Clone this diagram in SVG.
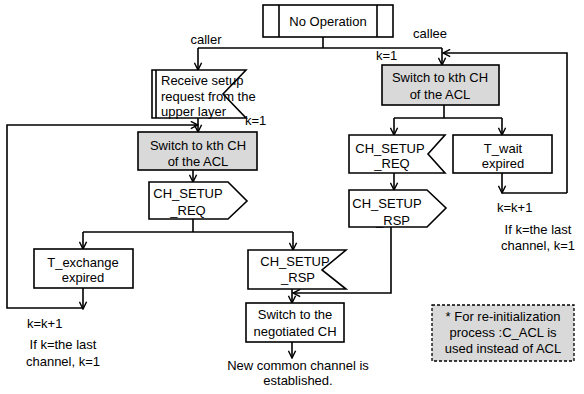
<svg xmlns="http://www.w3.org/2000/svg" width="584" height="394" viewBox="0 0 584 394">
<style>
.b{fill:#fff;stroke:#000;stroke-width:1.6}
.g{fill:#d9d9d9;stroke:#000;stroke-width:1.6}
.c{fill:none;stroke:#000;stroke-width:1.6}
text{font-family:"Liberation Sans",Arial,sans-serif;font-size:13px;fill:#000}
.m{text-anchor:middle}
</style>
<defs>
<marker id="a" viewBox="0 0 10 10" refX="9" refY="5" markerWidth="9" markerHeight="9" markerUnits="userSpaceOnUse" orient="auto">
<path d="M1,1 L9,5 L1,9" fill="none" stroke="#000" stroke-width="1.6"/>
</marker>
</defs>
<rect width="584" height="394" fill="#fff"/>
<g id="connectors">
<path class="c" d="M323,37 V48"/>
<path class="c" d="M198,48 H442"/>
<path class="c" d="M198,48 V70" marker-end="url(#a)"/>
<path class="c" d="M442,48 V65" marker-end="url(#a)"/>
<path class="c" d="M567,193 V53 H443" marker-end="url(#a)"/>
<path class="c" d="M198,118 V132" marker-end="url(#a)"/>
<path class="c" d="M83,308 H7 V125 H198" marker-end="url(#a)"/>
<path class="c" d="M193,170 V182" marker-end="url(#a)"/>
<path class="c" d="M193,219 V232"/>
<path class="c" d="M83,232 H293"/>
<path class="c" d="M83,232 V249" marker-end="url(#a)"/>
<path class="c" d="M293,232 V250" marker-end="url(#a)"/>
<path class="c" d="M83,288 V309" marker-end="url(#a)"/>
<path class="c" d="M292,289 V303" marker-end="url(#a)"/>
<path class="c" d="M391,227 V293 H293" marker-end="url(#a)"/>
<path class="c" d="M292,342 V358" marker-end="url(#a)"/>
<path class="c" d="M444,105 V118"/>
<path class="c" d="M394,118 H502"/>
<path class="c" d="M394,118 V135" marker-end="url(#a)"/>
<path class="c" d="M502,118 V135" marker-end="url(#a)"/>
<path class="c" d="M394,173 V190" marker-end="url(#a)"/>
<path class="c" d="M502,173 V193" marker-end="url(#a)"/>
<path class="c" d="M502,193 H567"/>
</g>
<g id="no-operation">
<rect class="b" x="263" y="5" width="130" height="32"/>
<path class="c" d="M279,5 V37 M377,5 V37"/>
<text class="m" x="328" y="26">No Operation</text>
</g>
<g id="labels-top">
<text class="m" x="206" y="44">caller</text>
<text class="m" x="430" y="38">callee</text>
<text x="376" y="60">k=1</text>
<text x="245" y="125">k=1</text>
</g>
<g id="receive-setup">
<path class="b" d="M152,70 H246 L223,94 L246,118 H152 Z"/>
<path class="c" d="M156,70 V118"/>
<text x="161" y="85">Receive setup</text>
<text x="161" y="101">request from the</text>
<text x="161" y="116">upper layer</text>
</g>
<g id="switch-left">
<rect class="g" x="138" y="132" width="119" height="38"/>
<text class="m" x="198" y="150">Switch to kth CH</text>
<text class="m" x="198" y="166">of the ACL</text>
</g>
<g id="req-left">
<path class="b" d="M149,182 H228 L247,201 L228,219 H149 Z"/>
<text class="m" x="188" y="198">CH_SETUP</text>
<text class="m" x="188" y="215">_REQ</text>
</g>
<g id="t-exchange">
<rect class="b" x="34" y="249" width="99" height="39"/>
<text class="m" x="83" y="267">T_exchange</text>
<text class="m" x="83" y="282">expired</text>
</g>
<g id="k-left">
<text x="27" y="328">k=k+1</text>
<text class="m" x="63" y="349">If k=the last</text>
<text class="m" x="63" y="366">channel, k=1</text>
</g>
<g id="rsp-left">
<path class="b" d="M248,250 H346 L322,270 L346,289 H248 Z"/>
<text class="m" x="295" y="266">CH_SETUP</text>
<text class="m" x="298" y="282">_RSP</text>
</g>
<g id="negotiated">
<rect class="b" x="246" y="303" width="98" height="39"/>
<text class="m" x="295" y="319">Switch to the</text>
<text class="m" x="295" y="336">negotiated CH</text>
</g>
<g id="established">
<text class="m" x="298" y="370">New common channel is</text>
<text class="m" x="298" y="385">established.</text>
</g>
<g id="switch-right">
<rect class="g" x="382" y="65" width="117" height="40"/>
<text class="m" x="440" y="82">Switch to kth CH</text>
<text class="m" x="440" y="99">of the ACL</text>
</g>
<g id="req-right">
<path class="b" d="M349,135 H445 L428,154 L445,173 H349 Z"/>
<text class="m" x="390" y="153">CH_SETUP</text>
<text class="m" x="392" y="168">_REQ</text>
</g>
<g id="t-wait">
<rect class="b" x="453" y="135" width="99" height="38"/>
<text class="m" x="503" y="153">T_wait</text>
<text class="m" x="503" y="168">expired</text>
</g>
<g id="rsp-right">
<path class="b" d="M349,190 H427 L446,208 L427,227 H349 Z"/>
<text class="m" x="387" y="208">CH_SETUP</text>
<text class="m" x="393" y="225">_RSP</text>
</g>
<g id="k-right">
<text x="497" y="212">k=k+1</text>
<text class="m" x="538" y="234">If k=the last</text>
<text class="m" x="538" y="250">channel, k=1</text>
</g>
<g id="note">
<rect x="432" y="305" width="142" height="56" fill="#d9d9d9" stroke="#000" stroke-width="1.3" stroke-dasharray="3,2"/>
<text class="m" x="503" y="321">* For re-initialization</text>
<text class="m" x="503" y="337">process :C_ACL is</text>
<text class="m" x="503" y="353">used instead of ACL</text>
</g>
</svg>
